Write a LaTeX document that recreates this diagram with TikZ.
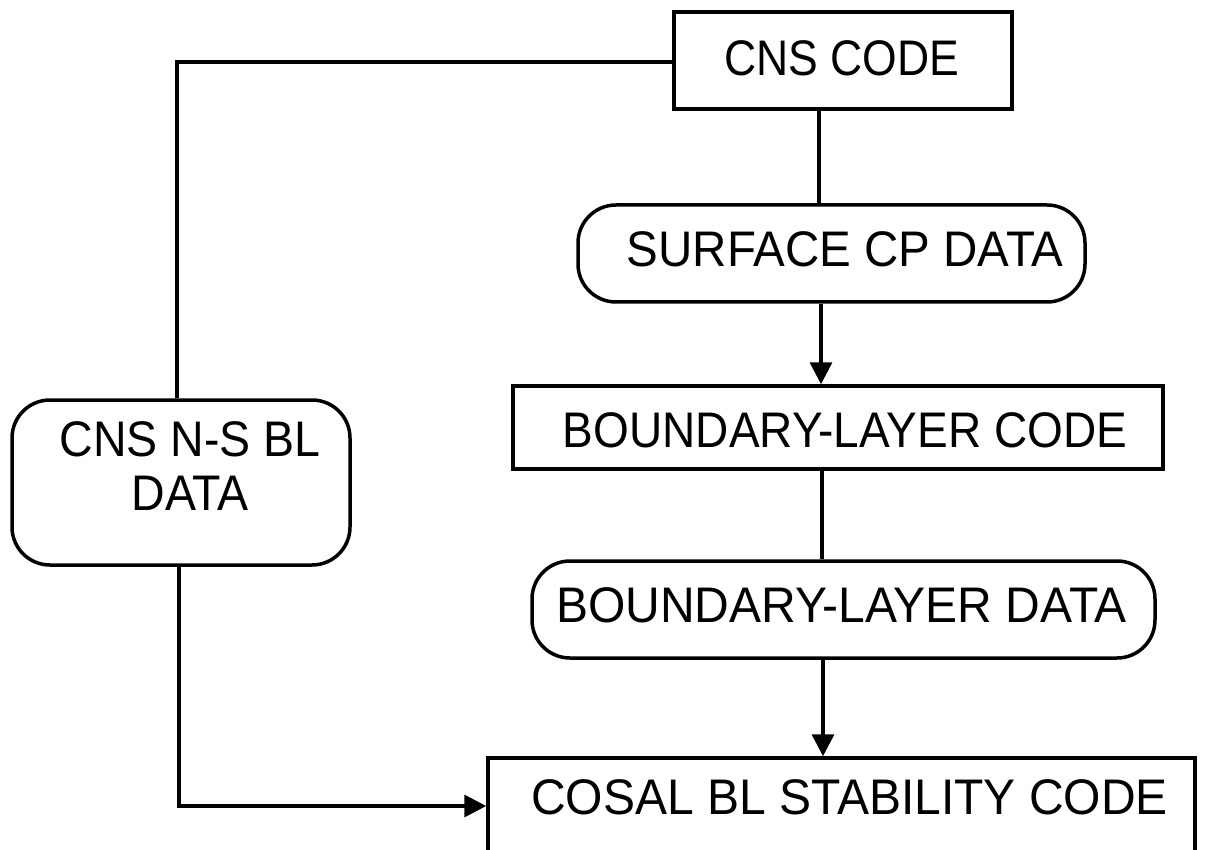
\documentclass[tikz,border=0pt]{standalone}
\usepackage{fontspec}
\setmainfont{Liberation Sans}
\usetikzlibrary{arrows.meta}
\newcommand{\lbl}[2][0.93]{\scalebox{#1}[1]{#2}}
\tikzset{
  box/.style={draw, line width=3.5pt, rectangle, inner sep=0pt},
  rbox/.style={box, rounded corners=38pt},
  txt/.style={inner sep=0pt, font=\fontsize{50}{54}\selectfont, align=center},
  conn/.style={line width=3.5pt},
  arr/.style={conn, -{Triangle[length=22pt,width=22pt]}},
}
\begin{document}
\begin{tikzpicture}[x=1pt,y=-1pt]
\useasboundingbox (0,0) rectangle (1205,850);
\clip (0,0) rectangle (1205,850);
% boxes
\node[box, minimum width=338pt, minimum height=97pt] (cns) at (843,60.5) {};
\node[txt] (cnst) at (842,58) {\lbl[0.89]{CNS CODE}};
\node[rbox, minimum width=507pt, minimum height=97pt] (scp) at (831.5,253.5) {};
\node[txt] (scpt) at (845,249) {\lbl[0.95]{SURFACE CP DATA}};
\node[box, minimum width=650pt, minimum height=83pt] (blc) at (838,427.5) {};
\node[txt] (blct) at (845,430) {\lbl[0.92]{BOUNDARY-LAYER CODE}};
\node[rbox, minimum width=623pt, minimum height=97pt] (bld) at (843.5,609.5) {};
\node[txt] (bldt) at (841.5,605) {\lbl[0.96]{BOUNDARY-LAYER DATA}};
\node[box, minimum width=707pt, minimum height=200pt] (cosal) at (841.5,858) {};
\node[txt] (cosalt) at (849.5,797) {\lbl[0.96]{COSAL BL STABILITY CODE}};
\node[rbox, minimum width=338pt, minimum height=165pt] (nsbl) at (181,482.5) {};
\node[txt] (nsblt) at (190,466) {\lbl{CNS N-S BL}\\\lbl{DATA}};
% right column connectors
\coordinate (c1) at (819,0);
\coordinate (c2) at (821,0);
\coordinate (c3) at (822,0);
\coordinate (c4) at (823,0);
\draw[conn] (cns.south -| c1) -- (scp.north -| c1);
\draw[arr] (scp.south -| c2) -- (blc.north -| c2);
\draw[conn] (blc.south -| c3) -- (bld.north -| c3);
\draw[arr] (bld.south -| c4) -- (cosal.north -| c4);
% left loop
\coordinate (k1) at (177,62);
\draw[conn] (cns.west |- k1) -- (k1) -- (nsbl.north -| k1);
\coordinate (k2) at (179,806);
\draw[arr] (nsbl.south -| k2) -- (k2) -- (cosal.west |- k2);
\end{tikzpicture}
\end{document}
